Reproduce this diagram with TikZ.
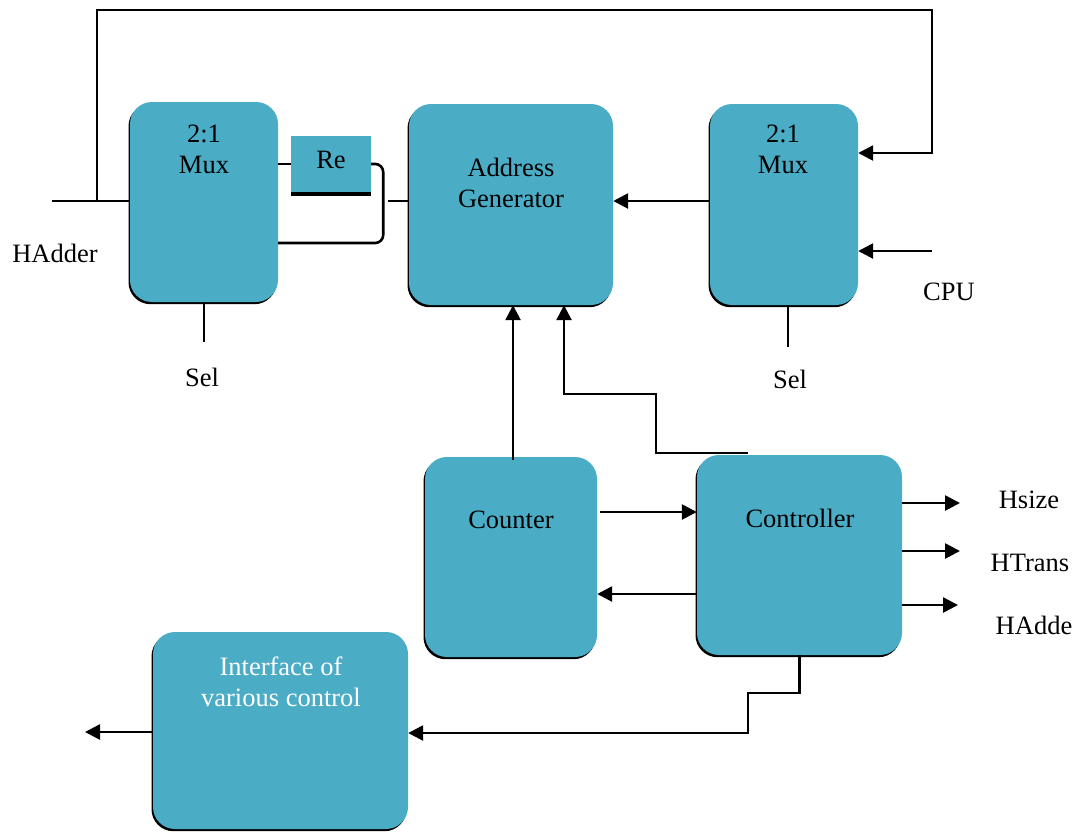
\documentclass[tikz,border=0pt]{standalone}
\usepackage{fontspec}
\setmainfont{Liberation Serif}
\usetikzlibrary{arrows.meta,shadows}
\definecolor{boxblue}{RGB}{75,172,198}
\tikzset{
  block/.style={rectangle, rounded corners=22pt, fill=boxblue, draw=none,
    drop shadow={shadow xshift=-1.5pt, shadow yshift=-2.2pt, fill=black, opacity=1},
    inner sep=0pt},
  txt/.style={align=center, inner sep=0pt, font=\fontsize{26.5}{31}\selectfont},
  wire/.style={line width=2.6pt},
  arr/.style={line width=2.6pt, -{Triangle[length=15pt,width=15pt]}},
}
\begin{document}
\begin{tikzpicture}[x=1pt,y=-1pt]
\useasboundingbox (0,0) rectangle (1075,831);

% blocks
\node[block, minimum width=148pt, minimum height=200pt] (muxL) at (204,202) {};
\node[rectangle, fill=boxblue, minimum width=80pt, minimum height=58pt, inner sep=0pt] (re) at (331,165) {};
\node[block, minimum width=204pt, minimum height=201pt] (ag) at (511,204.5) {};
\node[block, minimum width=148pt, minimum height=201pt] (muxR) at (784,204.5) {};
\node[block, minimum width=172pt, minimum height=200pt] (counter) at (511,557) {};
\node[block, minimum width=205pt, minimum height=200pt] (ctl) at (799.5,555) {};
\node[block, minimum width=255pt, minimum height=197pt] (iface) at (280.5,730.5) {};

% block texts
\node[txt] (muxLt) at (204,149) {2:1\\Mux};
\node[txt] (ret) at (331,160) {Re};
\node[txt] (agt) at (511,183) {Address\\Generator};
\node[txt] (muxRt) at (783,149) {2:1\\Mux};
\node[txt] (countert) at (511,520) {Counter};
\node[txt] (ctlt) at (800,518) {Controller};
\node[txt, text=white] (ifacet) at (281,682) {Interface of\\various control};

% thick lower edge of the register
\draw[line width=3.5pt] (re.south west) -- (re.south east);

% free labels
\node[txt] (hadderl) at (55,253) {HAdder};
\node[txt] (sell) at (202,377) {Sel};
\node[txt] (selr) at (790,379) {Sel};
\node[txt] (cpul) at (949,292) {CPU};
\node[txt] (hsizel) at (1029,500) {Hsize};
\node[txt] (htransl) at (1030,563) {HTrans};
\node[txt] (haddel) at (1034,625) {HAdde};

% wire end points
\coordinate (hin) at (52,201);
\coordinate (tap) at (97,201);
\coordinate (topR) at (932,10);
\coordinate (stub) at (388,201);
\coordinate (cpu) at (932,251);
\coordinate (ctlTap) at (748,453);
\coordinate (jogA) at (656,453);
\coordinate (jogB) at (656,394);
\coordinate (stepA) at (748,693);
\coordinate (stepB) at (748,733);
\coordinate (ifOut) at (85,732);
\coordinate (o1) at (960,503);
\coordinate (o2) at (960,551);
\coordinate (o3) at (958,605);

% left multiplexer and register
\draw[wire] (hin) -- ([yshift=1pt]muxL.west);
\draw[arr] (tap) |- (topR) |- ([yshift=51.5pt]muxR.east);
\draw[wire] (muxL.south) -- ++(0,40);
\draw[wire] ([yshift=38pt]muxL.east) -- ([yshift=1pt]re.west);
\draw[wire, rounded corners=8pt] ([yshift=1pt]re.east) -- ++(12,0) |- ([yshift=-41pt]muxL.east);
\draw[wire] (stub) -- (stub -| ag.west);

% right multiplexer
\draw[arr] ([yshift=3.5pt]muxR.west) -- ([yshift=3.5pt]ag.east);
\draw[arr] (cpu) -- (cpu -| muxR.east);
\draw[wire] ([xshift=4pt]muxR.south) -- ++(0,42);

% counter and controller
\draw[arr] ([xshift=2pt,yshift=-3pt]counter.north) -- ([xshift=2pt]ag.south);
\draw[arr] (ctlTap) -- (jogA) -- (jogB) -| ([xshift=53pt]ag.south);
\draw[arr] ([xshift=3pt,yshift=45pt]counter.east) -- ([yshift=45pt]counter.east -| ctl.west);
\draw[arr] ([yshift=-39pt]ctl.west) -- ([yshift=-39pt]ctl.west -| counter.east);
\draw[arr] ([yshift=52pt]ctl.east) -- (o1);
\draw[arr] ([yshift=4pt]ctl.east) -- (o2);
\draw[arr] ([yshift=-50pt]ctl.east) -- (o3);
\draw[arr] (ctl.south) -- (ctl.south |- stepA) -- (stepA) -- (stepB) -- (stepB -| iface.east);
\draw[arr] ([yshift=-1.5pt]iface.west) -- (ifOut);
\end{tikzpicture}
\end{document}
